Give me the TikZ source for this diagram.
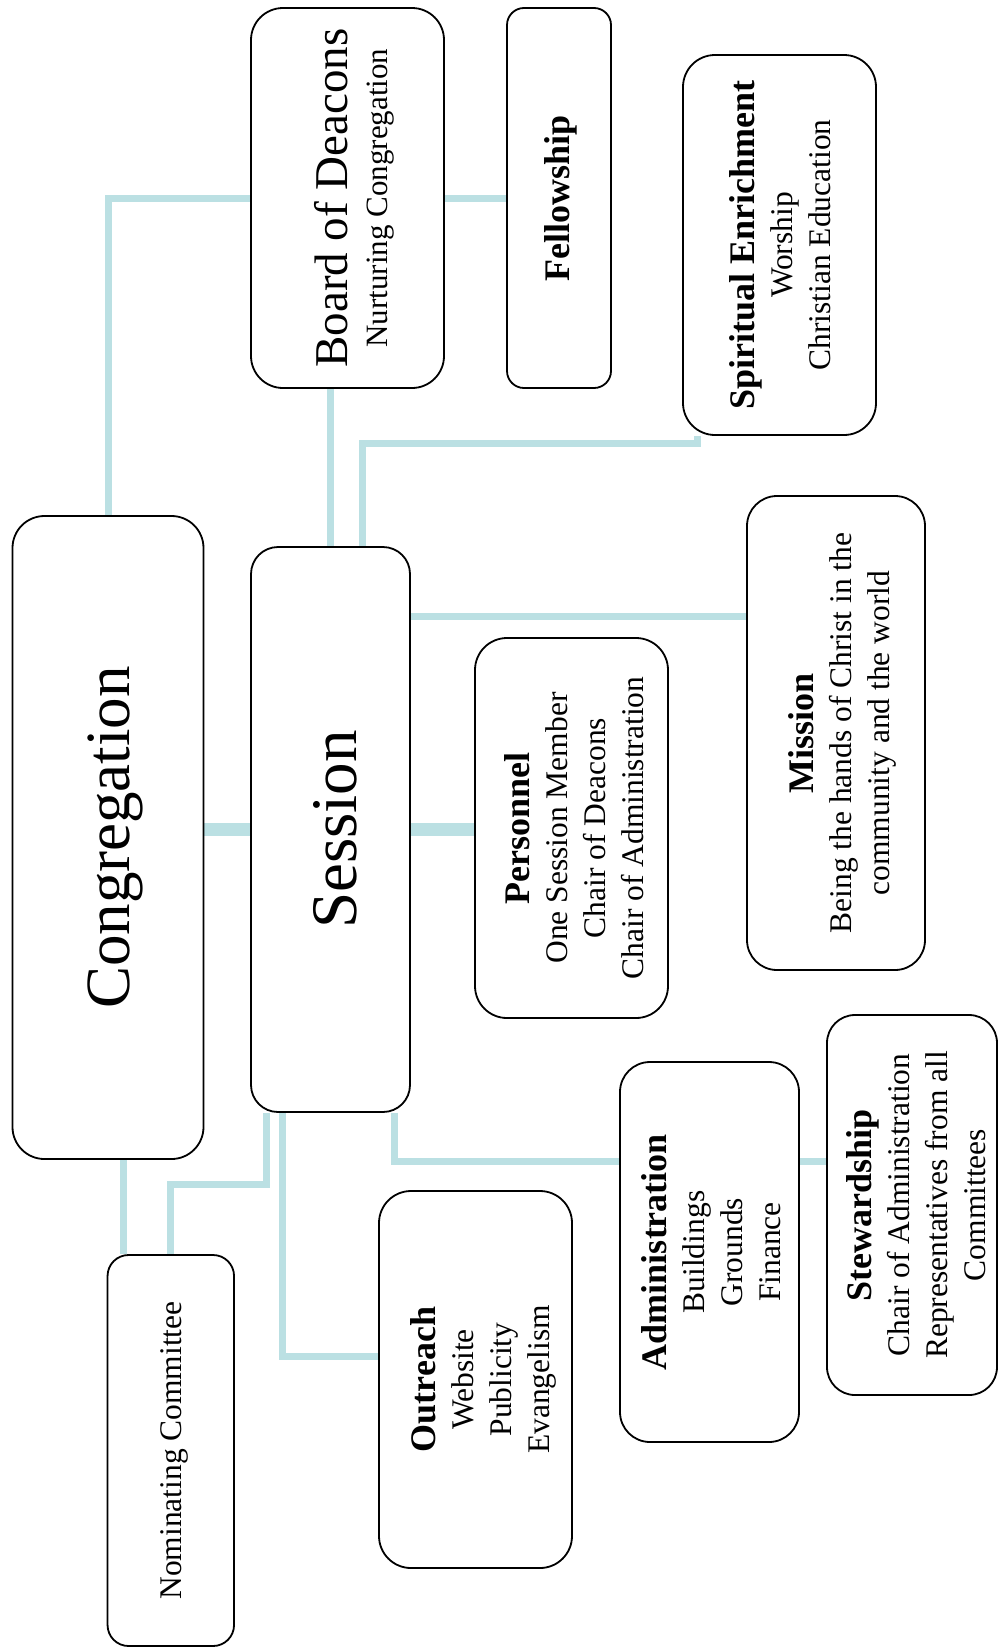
\documentclass[tikz,border=0pt]{standalone}
\usepackage{fontspec}
\setmainfont{Liberation Serif}
\usepackage{graphicx}
\definecolor{connc}{RGB}{187,224,227}
\pgfdeclarelayer{bg}
\pgfsetlayers{bg,main}
\newcommand\mytxt[2][7pt]{\rotatebox{90}{\raisebox{-#1}[\height][\depth]{\fontsize{31.5}{38}\selectfont\begin{tabular}{@{}c@{}}#2\end{tabular}}}}
\newcommand\myhd[1]{{\fontsize{36}{38}\selectfont\bfseries #1}}
\begin{document}
\begin{tikzpicture}[x=1pt,y=1pt,
  rbox/.style={draw=black, line width=1.8pt, fill=white, inner sep=0pt, rounded corners=#1},
  rbox/.default=30pt,
  conn/.style={draw=connc, line width=7pt},
  connthick/.style={draw=connc, line width=13pt}]
\useasboundingbox (0,0) rectangle (998,-1652);

\node[rbox=32pt, minimum width=191pt, minimum height=643pt] (cong) at (108,-837.5)
  {\rotatebox{90}{\raisebox{-7pt}[\height][\depth]{\fontsize{63}{70}\selectfont Congregation}}};
\node[rbox=27pt, minimum width=159pt, minimum height=565pt] (sess) at (330.5,-829.5)
  {\rotatebox{90}{\raisebox{-5pt}[\height][\depth]{\fontsize{65}{70}\selectfont Session}}};
\node[rbox=32pt, minimum width=193pt, minimum height=380pt] (board) at (347.5,-198)
  {\rotatebox{90}{\raisebox{-9pt}[\height][\depth]{\fontsize{31}{40}\selectfont\begin{tabular}{@{}c@{}}{\fontsize{47}{40}\selectfont Board of Deacons}\\ Nurturing Congregation\end{tabular}}}};
\node[rbox=17pt, minimum width=104pt, minimum height=380pt] (fell) at (559,-198)
  {\mytxt[3pt]{\myhd{Fellowship}}};
\node[rbox=32pt, minimum width=193pt, minimum height=380pt] (se) at (779.5,-245)
  {\mytxt[5pt]{\myhd{Spiritual Enrichment}\\ Worship\\ Christian Education}};
\node[rbox=30pt, minimum width=178pt, minimum height=474pt] (mis) at (836,-733)
  {\mytxt[8pt]{\myhd{Mission}\\ Being the hands of Christ in the\\ community and the world}};
\node[rbox=32pt, minimum width=193pt, minimum height=380pt] (pers) at (571.5,-828)
  {\mytxt[7pt]{\myhd{Personnel}\\ One Session Member\\ Chair of Deacons\\ Chair of Administration}};
\node[rbox=28pt, minimum width=170pt, minimum height=380pt] (stew) at (912,-1205)
  {\mytxt[9pt]{\myhd{Stewardship}\\ Chair of Administration\\ Representatives from all\\ Committees}};
\node[rbox=30pt, minimum width=179pt, minimum height=380pt] (adm) at (709.5,-1252)
  {\mytxt[6pt]{\myhd{Administration}\\ Buildings\\ Grounds\\ Finance}};
\node[rbox=32pt, minimum width=193pt, minimum height=377pt] (out) at (475.5,-1379.5)
  {\mytxt[9pt]{\myhd{Outreach}\\ Website\\ Publicity\\ Evangelism}};
\node[rbox=21pt, minimum width=126.5pt, minimum height=391pt] (nom) at (170.8,-1450.5)
  {\mytxt[3pt]{Nominating Committee}};

\coordinate (se1) at ([xshift=15pt,yshift=-8pt]se.south west);
\coordinate (m1) at ([yshift=116.5pt]mis.west);
\coordinate (a1) at ([yshift=91pt]adm.west);
\coordinate (o1) at ([yshift=23.5pt]out.west);
\coordinate (n1) at ([yshift=70pt]nom.north);

\begin{pgfonlayer}{bg}
\fill[white] (0,0) rectangle (998,-1652);
\draw[conn] (cong.north) |- (board.west);
\draw[conn] (board.east) -- (fell.west);
\draw[conn] (sess.north) -- (sess.north |- board.south);
\draw[conn] ([xshift=32pt]sess.north) |- (se1) -- ([xshift=15pt]se.south west);
\draw[conn] (m1 -| sess.east) -- (m1);
\draw[connthick] (sess.west -| cong.east) -- (sess.west);
\draw[connthick] (sess.east) -- (sess.east -| pers.west);
\draw[conn] ([xshift=64pt]sess.south) |- (a1);
\draw[conn] (a1 -| adm.east) -- (a1 -| stew.west);
\draw[conn] ([xshift=-48.5pt]sess.south) |- (o1);
\draw[conn] ([xshift=-64pt]sess.south) |- (n1) -- (nom.north);
\draw[conn] ([xshift=15pt]cong.south) -- ([xshift=15pt]cong.south |- nom.north);
\end{pgfonlayer}
\end{tikzpicture}
\end{document}
